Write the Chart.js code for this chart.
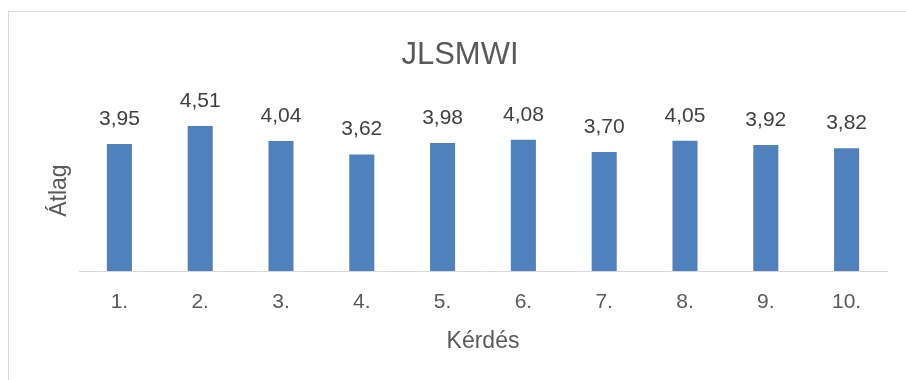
<!DOCTYPE html>
<html>
<head>
<meta charset="utf-8">
<script src="https://cdn.jsdelivr.net/npm/chart.js@4.4.1/dist/chart.umd.min.js"></script>
<style>
  html, body { margin: 0; padding: 0; background: #fff; }
  #wrap { position: relative; width: 906px; height: 380px; overflow: hidden; }
  #frame { position: absolute; left: 8px; top: 11px; width: 920px; height: 400px; border: 1px solid #d9d9d9; }
  canvas { position: absolute; left: 0; top: 0; }
</style>
</head>
<body>
<div id="wrap">
  <div id="frame"></div>
  <canvas id="chart" width="906" height="380"></canvas>
</div>
<script>
// 질문별 평균
const categories = ['1.', '2.', '3.', '4.', '5.', '6.', '7.', '8.', '9.', '10.'];
const averages = [3.95, 4.51, 4.04, 3.62, 3.98, 4.08, 3.70, 4.05, 3.92, 3.82];
const FONT = "'Liberation Sans', Arial, sans-serif";

/* ── 막대 위 값 라벨 ── */
const valueLabelPlugin = {
  id: 'valueLabel',
  afterDatasetsDraw(chart) {
    const { ctx } = chart;
    const meta = chart.getDatasetMeta(0);
    ctx.save();
    ctx.font = `21px ${FONT}`;
    ctx.fillStyle = '#404040';
    ctx.textAlign = 'center';
    ctx.textBaseline = 'middle';
    meta.data.forEach((bar, i) => {
      const txt = averages[i].toFixed(2).replace('.', ',');
      ctx.fillText(txt, bar.x, bar.y - 25);
    });
    ctx.restore();
  },
};

new Chart(document.getElementById('chart'), {
  type: 'bar',
  data: {
    labels: categories,
    datasets: [{
      data: averages,
      backgroundColor: '#4f81bd',
      borderWidth: 0,
      barPercentage: 0.31,
      categoryPercentage: 1,
    }],
  },
  plugins: [valueLabelPlugin],
  options: {
    responsive: false,
    animation: false,
    layout: { padding: { left: 33, right: 19, top: 0, bottom: 0 } },
    plugins: {
      legend: { display: false },
      tooltip: { enabled: false },
      title: {
        display: true,
        text: 'JLSMWI',
        color: '#595959',
        font: { family: FONT, size: 31, weight: 'normal' },
        padding: { top: 37, bottom: 36 },
      },
    },
    scales: {
      x: {
        grid: { display: false, drawTicks: false },
        border: { display: true, color: '#d9d9d9', width: 1 },
        ticks: { color: '#595959', font: { family: FONT, size: 21 }, padding: 19 },
        title: {
          display: true,
          text: 'Kérdés',
          color: '#595959',
          font: { family: FONT, size: 23 },
          padding: { top: 0, bottom: 25 },
        },
        afterFit(scale) { scale.height = 109; },
      },
      y: {
        min: 0,
        max: 5,
        grid: { display: false, drawTicks: false },
        border: { display: false },
        ticks: { display: false },
        title: {
          display: true,
          text: 'Átlag',
          color: '#595959',
          font: { family: FONT, size: 23 },
          padding: { top: 13, bottom: 0 },
        },
        afterFit(scale) { scale.width = 46; },
      },
    },
  },
});
</script>
</body>
</html>
